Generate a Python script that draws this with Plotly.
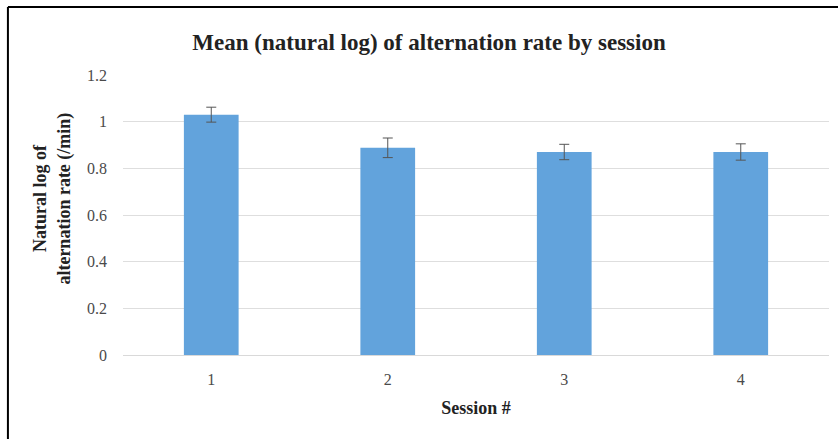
import plotly.graph_objects as go

# Session data: mean natural-log alternation rate with standard error
sessions = ["1", "2", "3", "4"]
mean_log_rate = [1.03, 0.888, 0.870, 0.870]
std_error = [0.032, 0.042, 0.033, 0.035]
y_ticks = [0, 0.2, 0.4, 0.6, 0.8, 1, 1.2]
y_tick_text = ["0", "0.2", "0.4", "0.6", "0.8", "1", "1.2"]

serif = "Liberation Serif"
bar_color = "#62a3dc"

fig = go.Figure(
    go.Bar(
        x=sessions,
        y=mean_log_rate,
        width=0.31,
        marker=dict(color=bar_color, line=dict(width=0)),
        error_y=dict(type="data", array=std_error, visible=True,
                     color="#555555", thickness=1, width=5),
    )
)

fig.update_layout(
    width=838,
    height=439,
    margin=dict(l=123, r=9, t=75, b=84),
    paper_bgcolor="white",
    plot_bgcolor="white",
    showlegend=False,
    title=dict(
        text="<b>Mean (natural log) of alternation rate by session</b>",
        x=0.512, xanchor="center", y=0.905, yanchor="middle",
        font=dict(family=serif, size=23, color="#222222"),
    ),
    xaxis=dict(
        showgrid=False,
        showline=True, linecolor="#d9d9d9", linewidth=1,
        ticks="", ticklabelstandoff=10,
        tickfont=dict(family=serif, size=16, color="#4a4a4a"),
        title=dict(text="<b>Session #</b>", standoff=14,
                   font=dict(family=serif, size=18, color="#222222")),
    ),
    yaxis=dict(
        range=[0, 1.2],
        tickvals=y_ticks, ticktext=y_tick_text,
        showgrid=True, gridcolor="#dedede", gridwidth=1,
        zeroline=False, showline=False, ticks="",
        ticklabelstandoff=15,
        tickfont=dict(family=serif, size=16, color="#4a4a4a"),
    ),
    annotations=[
        dict(
            text="<b>Natural log of<br>alternation rate (/min)</b>",
            xref="paper", yref="paper", x=-0.100, y=0.56,
            xanchor="center", yanchor="middle", textangle=-90,
            showarrow=False,
            font=dict(family=serif, size=18, color="#222222"),
        )
    ],
    shapes=[
        # chart frame: top and left edges
        dict(type="line", xref="paper", yref="paper",
             x0=-0.163, x1=1.02, y0=1.243, y1=1.243,
             line=dict(color="black", width=2)),
        dict(type="line", xref="paper", yref="paper",
             x0=-0.163, x1=-0.163, y0=1.243, y1=-0.31,
             line=dict(color="black", width=2)),
    ],
)

fig.write_html("out.html")
